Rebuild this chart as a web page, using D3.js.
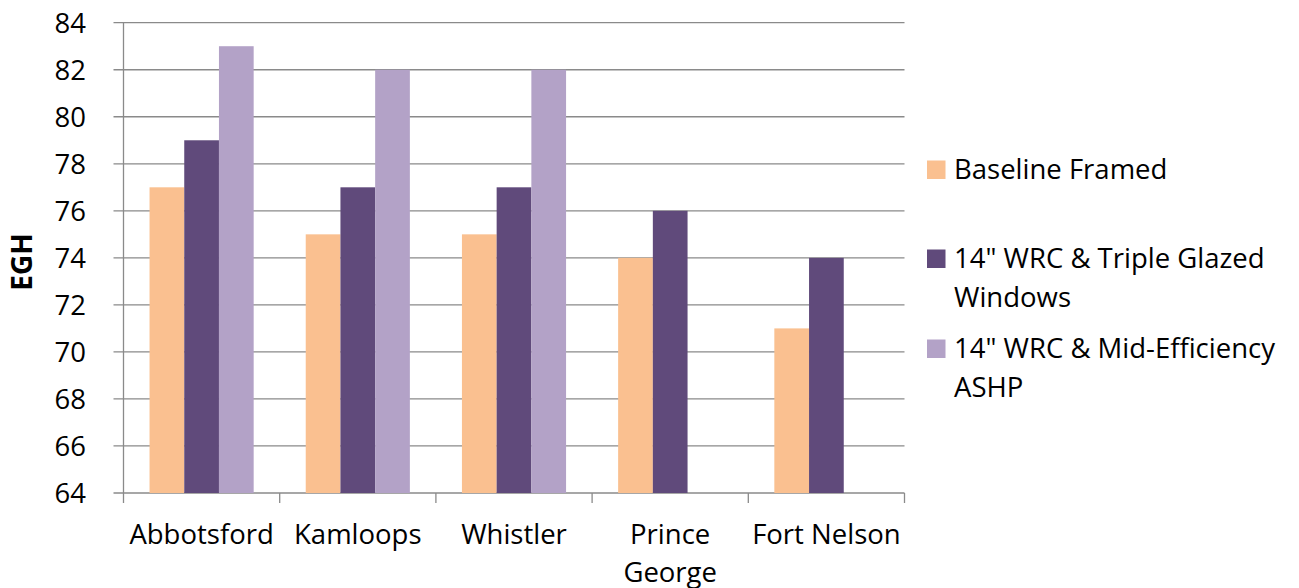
<!DOCTYPE html>
<html><head><meta charset="utf-8">
<script src="https://cdn.jsdelivr.net/npm/d3@7"></script>
<style>
body{margin:0;background:#fff;}
svg text{font-family:"Open Sans",sans-serif;fill:#000;}
</style></head><body>
<svg id="c" width="1299" height="588"></svg>
<script>
const categories = ["Abbotsford","Kamloops","Whistler","Prince George","Fort Nelson"];
const seriesNames = ["Baseline Framed","14\" WRC & Triple Glazed Windows","14\" WRC & Mid-Efficiency ASHP"];
const baseline = [77,75,75,74,71];
const tripleGlazed = [79,77,77,76,74];
const midEffASHP = [83,82,82,null,null];
const yTicks = [64,66,68,70,72,74,76,78,80,82,84];
const colors = ["#FAC090","#604A7B","#B3A2C7"];
const legendLines = [["Baseline Framed"],["14\" WRC & Triple Glazed","Windows"],["14\" WRC & Mid-Efficiency","ASHP"]];
const catLines = [["Abbotsford"],["Kamloops"],["Whistler"],["Prince","George"],["Fort Nelson"]];

const series = [baseline, tripleGlazed, midEffASHP];
const svg = d3.select("#c");
const pLeft = 123.5, pRight = 904.5, pTop = 22.7, pBottom = 493;
const FS = 27.5;

const x = d3.scaleBand().domain(categories).range([pLeft,pRight]).paddingInner(0).paddingOuter(0);
const bw = x.bandwidth()/(3+1.5);
const y = d3.scaleLinear().domain([64,84]).range([pBottom,pTop]);

// gridlines
svg.append("g").selectAll("line").data(yTicks).join("line")
  .attr("x1",pLeft-10).attr("x2",pRight).attr("y1",d=>y(d)).attr("y2",d=>y(d))
  .attr("stroke","#8a8a8a").attr("stroke-width",1.3);

// bars
categories.forEach((c,ci)=>{
  series.forEach((s,si)=>{
    const v = s[ci];
    if(v==null) return;
    svg.append("rect")
      .attr("x", x(c)+0.75*bw+si*bw)
      .attr("width", bw)
      .attr("y", y(v))
      .attr("height", y(64)-y(v))
      .attr("fill", colors[si]);
  });
});

// y axis line
svg.append("line").attr("x1",pLeft).attr("x2",pLeft).attr("y1",pTop).attr("y2",pBottom+10)
  .attr("stroke","#8a8a8a").attr("stroke-width",1.3);
// x axis ticks
const bounds = categories.map(c=>x(c)).concat([pRight]);
svg.append("g").selectAll("line").data(bounds.slice(1)).join("line")
  .attr("x1",d=>d).attr("x2",d=>d).attr("y1",pBottom).attr("y2",pBottom+10)
  .attr("stroke","#8a8a8a").attr("stroke-width",1.3);

// y tick labels
svg.append("g").selectAll("text").data(yTicks).join("text")
  .attr("x",86).attr("y",d=>y(d)).attr("dy","0.36em").attr("text-anchor","end")
  .attr("font-size",FS).text(d=>d);

// x labels
categories.forEach((c,ci)=>{
  const t = svg.append("text").attr("text-anchor","middle").attr("font-size",FS)
    .attr("x", x(c)+x.bandwidth()/2).attr("y",544);
  catLines[ci].forEach((l,li)=>t.append("tspan").attr("x",x(c)+x.bandwidth()/2).attr("dy",li?37.5:0).text(l));
});

// y title
svg.append("text").attr("transform","translate(32,262) rotate(-90)").attr("text-anchor","middle")
  .attr("font-size",28).attr("font-weight","bold").text("EGH");

// legend
const legY = [179,268,358];
legendLines.forEach((lines,i)=>{
  svg.append("rect").attr("x",927).attr("y",legY[i]-18.5).attr("width",18.5).attr("height",18.5).attr("fill",colors[i]);
  const t = svg.append("text").attr("font-size",FS).attr("x",954).attr("y",legY[i]);
  lines.forEach((l,li)=>t.append("tspan").attr("x",954).attr("dy",li?38.5:0).text(l));
});
</script>
</body></html>
